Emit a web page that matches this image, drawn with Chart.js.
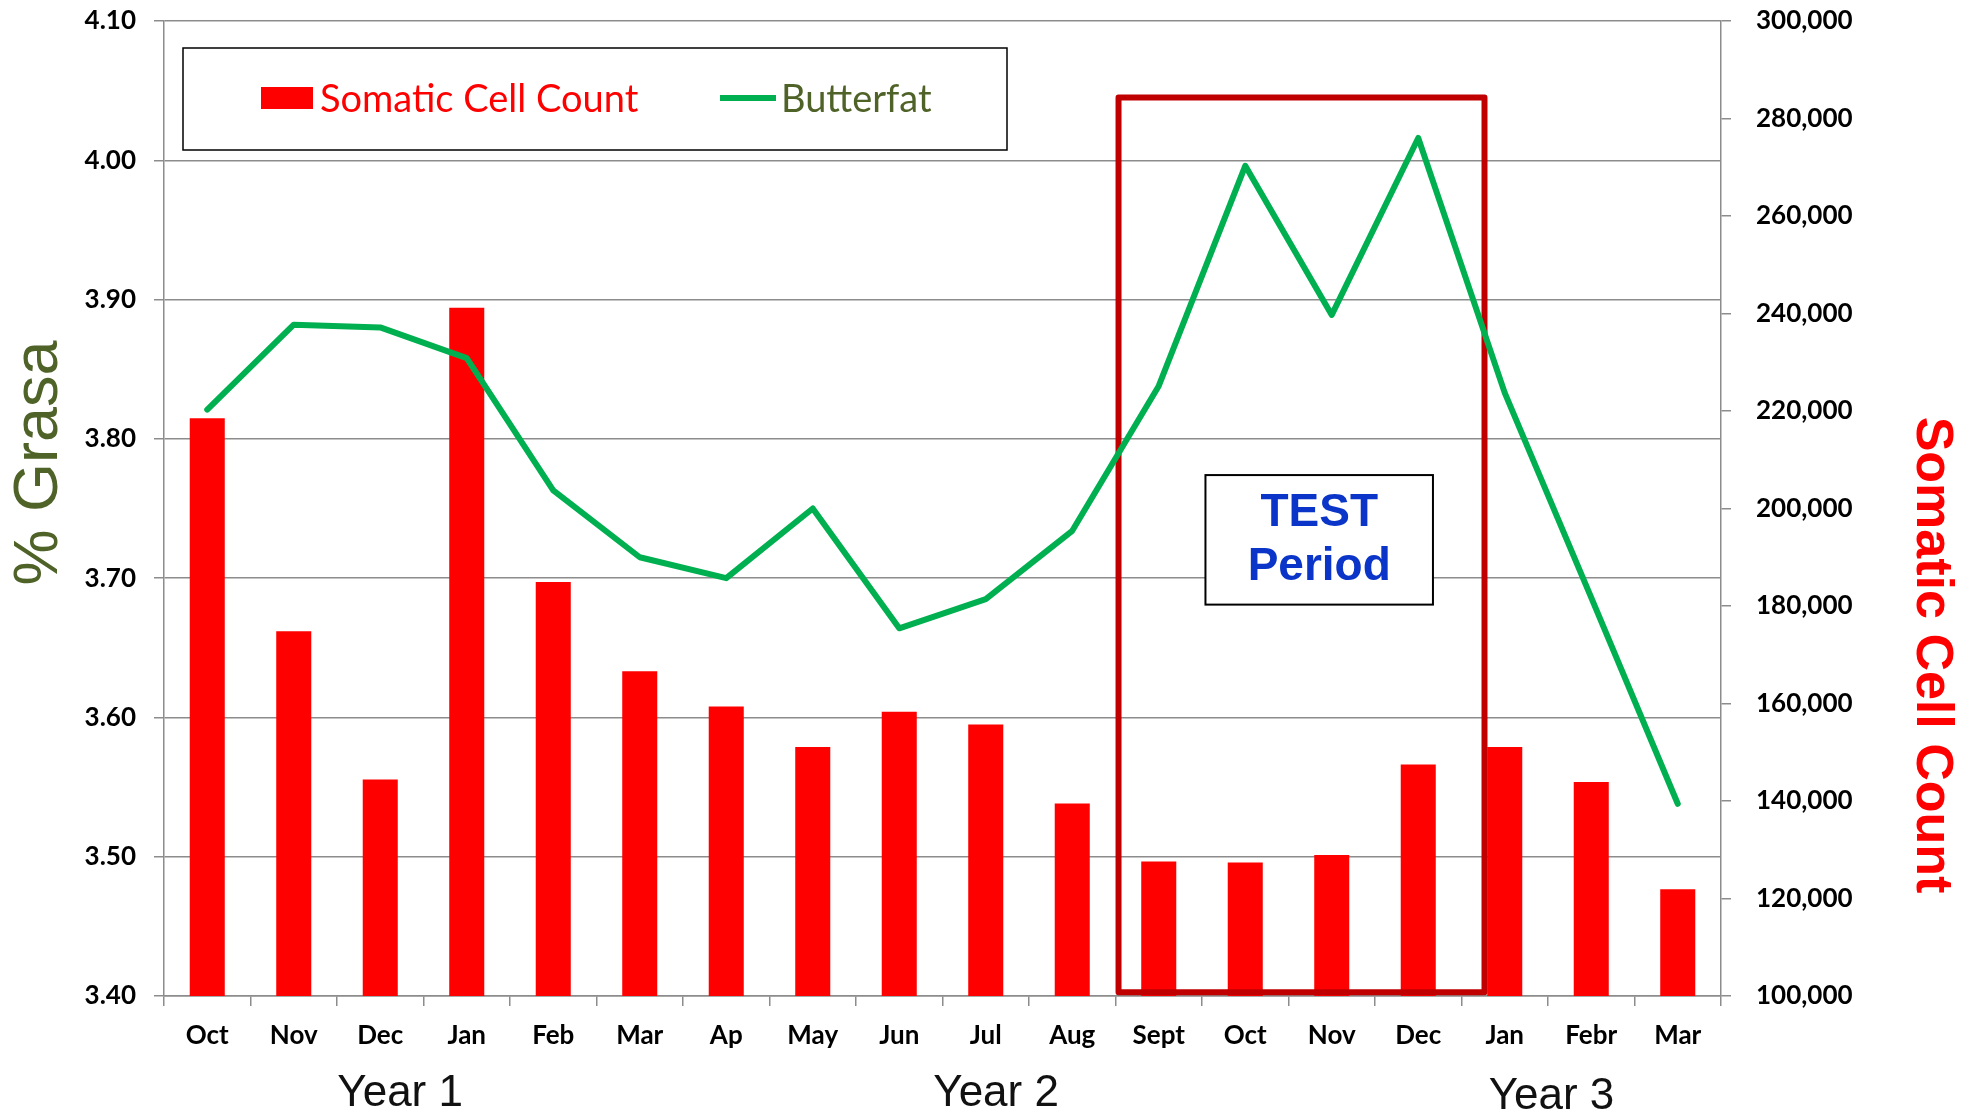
<!DOCTYPE html>
<html lang="en">
<head>
<meta charset="UTF-8">
<title>Somatic Cell Count y Butterfat</title>
<script src="https://cdn.jsdelivr.net/npm/chart.js"></script>
<style>
  html, body { margin: 0; padding: 0; background: #fff; }
</style>
</head>
<body>
<canvas id="sccChart" width="1972" height="1113"></canvas>
<script>
// data
const months = ['Oct', 'Nov', 'Dec', 'Jan', 'Feb', 'Mar', 'Ap', 'May', 'Jun', 'Jul', 'Aug', 'Sept', 'Oct', 'Nov', 'Dec', 'Jan', 'Febr', 'Mar'];
const somaticCellCount = [218500, 174800, 144400, 241200, 184900, 166600, 159400, 151100, 158300, 155700, 139500, 127600, 127400, 128900, 147500, 151100, 143900, 121900];
const butterfat = [3.821, 3.882, 3.880, 3.858, 3.763, 3.715, 3.700, 3.750, 3.664, 3.685, 3.734, 3.838, 3.996, 3.889, 4.016, 3.833, 3.686, 3.538];
const fatAxis = [3.40, 4.10, 0.10];          // min, max, step
const sccAxis = [100000, 300000, 20000];     // min, max, step
const yearLabels = ['Year 1', 'Year 2', 'Year 3'];
const testLabel = ['TEST', 'Period'];

const GRID = '#8c8c8c';
const RED = '#FF0000';
const GREEN = '#00B050';
const OLIVE = '#4F6228';

// test period frame, legend, titles and year labels
const decor = {
    id: 'decor',
    afterDatasetDraw(chart, args) {
        if (args.meta.type !== 'bar') return;
        const { ctx, scales: { x, yFat } } = chart;
        // red frame round the test months (Sept .. Dec of year 2)
        const l = x.getPixelForValue(10.535), r = x.getPixelForValue(14.766);
        const t = yFat.getPixelForValue(4.045), b = yFat.getPixelForValue(3.4027);
        ctx.save();
        ctx.strokeStyle = '#C00000';
        ctx.lineWidth = 6;
        ctx.lineJoin = 'round';
        ctx.strokeRect(l, t, r - l, b - t);
        ctx.restore();
    },
    afterDatasetsDraw(chart) {
        const { ctx, chartArea: a, scales: { x, yFat } } = chart;
        ctx.save();

        // TEST Period box
        const bl = x.getPixelForValue(11.54), br = x.getPixelForValue(14.17);
        const bt = yFat.getPixelForValue(3.774), bb = yFat.getPixelForValue(3.681);
        ctx.fillStyle = '#fff';
        ctx.fillRect(bl, bt, br - bl, bb - bt);
        ctx.strokeStyle = '#000';
        ctx.lineWidth = 2;
        ctx.strokeRect(bl, bt, br - bl, bb - bt);
        ctx.fillStyle = '#0a35c8';
        ctx.font = 'bold 46px "Liberation Sans", Arial, sans-serif';
        ctx.textAlign = 'center';
        ctx.textBaseline = 'middle';
        const cx = (bl + br) / 2;
        ctx.fillText(testLabel[0], cx, bt + 38);
        ctx.fillText(testLabel[1], cx, bt + 92);

        // legend box
        const lx = a.left + 19, ly = a.top + 27;
        ctx.lineWidth = 1.5;
        ctx.strokeStyle = '#000';
        ctx.strokeRect(lx, ly, 824, 102);
        const my = ly + 50;
        const bars = chart.data.datasets[1], line = chart.data.datasets[0];
        ctx.fillStyle = bars.backgroundColor;
        ctx.fillRect(lx + 78, my - 11, 52, 22);
        ctx.font = '38px Lato, "Open Sans", sans-serif';
        ctx.textAlign = 'left';
        ctx.fillStyle = RED;
        ctx.fillText(bars.label, lx + 137, my + 2);
        ctx.strokeStyle = line.borderColor;
        ctx.lineWidth = 6;
        ctx.beginPath();
        ctx.moveTo(lx + 537, my);
        ctx.lineTo(lx + 593, my);
        ctx.stroke();
        ctx.fillStyle = OLIVE;
        ctx.fillText(line.label, lx + 598, my + 2);
        ctx.restore();
    },
    afterDraw(chart) {
        const { ctx, chartArea: a, scales: { x } } = chart;
        ctx.save();
        ctx.textAlign = 'center';
        ctx.textBaseline = 'middle';

        // left title
        ctx.save();
        ctx.translate(40, 463);
        ctx.rotate(-Math.PI / 2);
        ctx.fillStyle = OLIVE;
        ctx.font = '63px "Liberation Sans", Arial, sans-serif';
        ctx.fillText('% Grasa', 0, 0);
        ctx.restore();

        // right title
        ctx.save();
        ctx.translate(1931, 655);
        ctx.rotate(Math.PI / 2);
        ctx.fillStyle = RED;
        ctx.font = 'bold 52px "Liberation Sans", Arial, sans-serif';
        ctx.fillText('Somatic Cell Count', 0, 0);
        ctx.restore();

        // year labels under the month ticks
        const at = [2.23, 9.12, 15.54], dy = [98, 98, 101];
        ctx.fillStyle = '#111';
        ctx.font = '44px "Liberation Sans", Arial, sans-serif';
        yearLabels.forEach((t, i) => ctx.fillText(t, x.getPixelForValue(at[i]), a.bottom + dy[i]));
        ctx.restore();
    }
};

const tickFont = { family: 'Lato, "Open Sans", sans-serif', weight: 'bold', size: 26 };

new Chart(document.getElementById('sccChart'), {
    type: 'bar',
    data: {
        labels: months,
        datasets: [{
            type: 'line',
            label: 'Butterfat',
            data: butterfat,
            yAxisID: 'yFat',
            borderColor: GREEN,
            borderWidth: 6,
            borderCapStyle: 'round',
            borderJoinStyle: 'round',
            pointRadius: 0,
            tension: 0,
            order: 0
        }, {
            type: 'bar',
            label: 'Somatic Cell Count',
            data: somaticCellCount,
            yAxisID: 'ySCC',
            backgroundColor: RED,
            barPercentage: 0.405,
            categoryPercentage: 1,
            order: 1
        }]
    },
    options: {
        responsive: false,
        animation: false,
        devicePixelRatio: 1,
        layout: { padding: { top: 21, left: 0, right: 0, bottom: 0 } },
        plugins: { legend: { display: false }, tooltip: { enabled: false } },
        scales: {
            x: {
                offset: true,
                grid: { offset: true, drawOnChartArea: false, color: GRID, lineWidth: 1.5, tickLength: 10 },
                border: { color: GRID, width: 1.5 },
                ticks: { color: '#000', font: tickFont, padding: 14, maxRotation: 0, autoSkip: false },
                afterFit(s) { s.height = 117; }
            },
            yFat: {
                position: 'left',
                min: fatAxis[0],
                max: fatAxis[1],
                grid: { color: GRID, lineWidth: 1.5, tickLength: 10 },
                border: { color: GRID, width: 1.5 },
                ticks: { stepSize: fatAxis[2], color: '#000', font: tickFont, padding: 18,
                         callback: v => v.toFixed(2) },
                afterFit(s) { s.width = 164; s.paddingTop = 0; s.paddingBottom = 0; }
            },
            ySCC: {
                position: 'right',
                min: sccAxis[0],
                max: sccAxis[1],
                grid: { drawOnChartArea: false, color: GRID, lineWidth: 1.5, tickLength: 10 },
                border: { color: GRID, width: 1.5 },
                ticks: { stepSize: sccAxis[2], color: '#000', font: tickFont, padding: 25,
                         callback: v => v.toLocaleString('en-US') },
                afterFit(s) { s.width = 251; s.paddingTop = 0; s.paddingBottom = 0; }
            }
        }
    },
    plugins: [decor]
});
</script>
</body>
</html>
